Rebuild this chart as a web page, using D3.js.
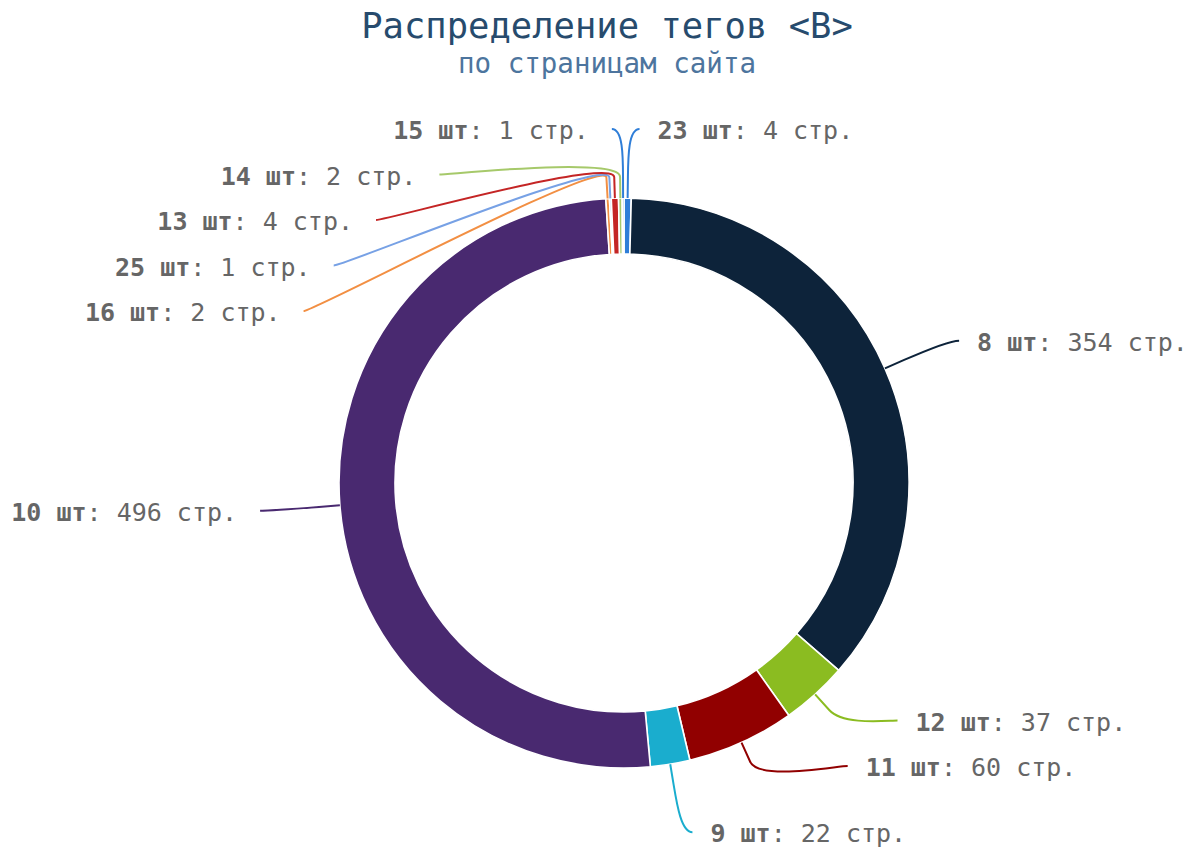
<!DOCTYPE html>
<html>
<head>
<meta charset="utf-8">
<script src="https://cdn.jsdelivr.net/npm/d3@7"></script>
<style>
  body { margin: 0; background: #ffffff; }
  svg { display: block; }
</style>
</head>
<body>
<svg id="chart" width="1190" height="852"></svg>
<script>
// Number of <B> tags on a page, and how many pages have that count
const tagCounts = [23, 8, 12, 11, 9, 10, 16, 25, 13, 14, 15];
const pageCounts = [4, 354, 37, 60, 22, 496, 2, 1, 4, 2, 1];
const sliceColors = ['#2f7ed8', '#0d233a', '#8bbc21', '#910000', '#1aadce', '#492970',
                     '#f28f43', '#77a1e5', '#c42525', '#a6c96a', '#2f7ed8'];
const titleText = 'Распределение тегов <B>';
const subtitleText = 'по страницам сайта';
const unitTags = 'шт';
const unitPages = 'стр.';

const W = 1190, H = 852;
const cx = 624, cy = 483;
const outerR = 285, innerR = 229;
const labelR = 354;          // radius on which the label anchors sit
const slotH = 45.5;          // vertical spacing of label slots
const connOffset = 21;       // radial run of the connector outside the ring
const connPad = 11;          // connector end distance from the anchor
const textGapRight = 18;     // gap between connector end and text
const textGapLeft = 23;
const labelFont = 25;

const svg = d3.select('#chart');
const font = "'DejaVu Sans Mono', monospace";

// Titles
svg.append('text')
  .attr('x', 607).attr('y', 38)
  .attr('text-anchor', 'middle')
  .attr('font-family', font).attr('font-size', 35.5)
  .attr('fill', '#274b6d')
  .text(titleText);
svg.append('text')
  .attr('x', 607).attr('y', 73)
  .attr('text-anchor', 'middle')
  .attr('font-family', font).attr('font-size', 27.5)
  .attr('fill', '#4d759e')
  .text(subtitleText);

const data = tagCounts.map((t, i) => ({ tags: t, pages: pageCounts[i], color: sliceColors[i] }));
const pie = d3.pie().sort(null).value(d => d.pages).startAngle(0).endAngle(2 * Math.PI);
const arcs = pie(data);
const arcGen = d3.arc().innerRadius(innerR).outerRadius(outerR);

const g = svg.append('g');

// Ring slices
g.selectAll('path.slice')
  .data(arcs)
  .join('path')
  .attr('class', 'slice')
  .attr('transform', `translate(${cx},${cy})`)
  .attr('d', arcGen)
  .attr('fill', d => d.data.color)
  .attr('stroke', '#ffffff')
  .attr('stroke-width', 1.6)
  .attr('stroke-linejoin', 'round');

// Label placement: natural positions on a circle, then slot-based anti-collision per half
const polar = (a, rho) => [cx + Math.sin(a) * rho, cy - Math.cos(a) * rho];
arcs.forEach(a => {
  a.mid = (a.startAngle + a.endAngle) / 2;
  a.right = a.mid < Math.PI;
  a.natY = cy - Math.cos(a.mid) * labelR;
});
const getX = (y, left) => {
  const ang = Math.asin(Math.max(-1, Math.min(1, (y - cy) / labelR)));
  return cx + (left ? -1 : 1) * Math.cos(ang) * labelR;
};
const baseSlots = [];
for (let p = cy - labelR; p <= cy + labelR; p += slotH) baseSlots.push(p);

[true, false].forEach(isRight => {
  const pts = arcs.filter(a => a.right === isRight)
    .sort((a, b) => isRight ? a.mid - b.mid : b.mid - a.mid);
  const slots = baseSlots.slice();
  const n = slots.length, len = pts.length;
  const used = [];
  pts.forEach((p, k) => {
    let best = 1e9, si = 0;
    baseSlots.forEach((s, i) => {
      const dd = Math.abs(s - p.natY);
      if (dd < best) { best = dd; si = i; }
    });
    if (si < k && slots[k] !== null) {
      si = k;
    } else if (n < len - k + si && slots[k] !== null) {
      si = n - len + k;
      while (slots[si] === null) si++;
    } else {
      while (slots[si] === null) si++;
    }
    used.push({ i: si, y: slots[si] });
    slots[si] = null;
  });
  used.sort((a, b) => b.y - a.y);
  pts.forEach(p => {
    const s = used.pop();
    let y = s.y;
    if ((p.natY > y && slots[s.i + 1] !== null) || (p.natY < y && slots[s.i - 1] !== null)) {
      y = p.natY;
    }
    p.ly = y;
    p.lx = getX(s.i === 0 || s.i === n - 1 ? p.natY : y, !isRight);
  });
});

// Connectors
g.selectAll('path.conn')
  .data(arcs)
  .join('path')
  .attr('class', 'conn')
  .attr('fill', 'none')
  .attr('stroke', d => d.data.color)
  .attr('stroke-width', 2)
  .attr('d', d => {
    const sx = d.lx + (d.right ? connPad : -connPad);
    const c2 = polar(d.mid, outerR + 2 * connOffset);
    const b = polar(d.mid, outerR + connOffset);
    const e = polar(d.mid, outerR);
    return `M${sx},${d.ly}C${d.lx},${d.ly} ${c2[0]},${c2[1]} ${b[0]},${b[1]}L${e[0]},${e[1]}`;
  });

// Labels
const labels = g.selectAll('text.lbl')
  .data(arcs)
  .join('text')
  .attr('class', 'lbl')
  .attr('x', d => d.right ? d.lx + connPad + textGapRight : d.lx - connPad - textGapLeft)
  .attr('y', d => d.ly + 10)
  .attr('text-anchor', d => d.right ? 'start' : 'end')
  .attr('font-family', font)
  .attr('font-size', labelFont)
  .attr('fill', '#666666');
labels.append('tspan').attr('font-weight', 'bold').text(d => `${d.data.tags} ${unitTags}`);
labels.append('tspan').text(d => `: ${d.data.pages} ${unitPages}`);
</script>
</body>
</html>
